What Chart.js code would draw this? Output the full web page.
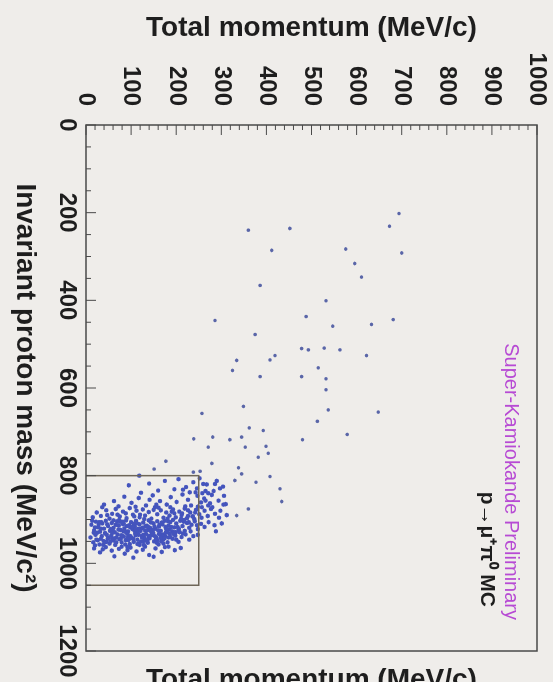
<!DOCTYPE html>
<html>
<head>
<meta charset="utf-8">
<script src="https://cdn.jsdelivr.net/npm/chart.js@4.4.0/dist/chart.umd.min.js"></script>
<style>
  html, body { margin: 0; padding: 0; background: #efedea; overflow: hidden; }
  /* el grafico original esta girado 90 grados */
  #wrap { position: absolute; left: 0; top: 0; width: 682px; height: 553px;
          transform-origin: 0 0; transform: translate(553px, 0) rotate(90deg); }
</style>
</head>
<body>
<div id="wrap"><canvas id="chart" width="682" height="553"></canvas></div>
<script>
// Ejes
const massTicks = [0, 200, 400, 600, 800, 1000, 1200];
const momentumTicks = [0, 100, 200, 300, 400, 500, 600, 700, 800, 900, 1000];

// Caja del corte (masa, momento)
const cutMass = [800, 800, 1050, 1050];
const cutMomentum = [0, 250, 250, 0];

// Eventos dispersos (fuera del nucleo)
const sparseMomentum = [360, 452, 412, 386, 286, 488, 375, 478, 493, 334, 325, 408, 419, 386, 478, 349, 257,
  694, 673, 700, 576, 596, 611, 532, 547, 633, 681, 528, 563, 622, 515, 532, 532, 537, 648, 513, 579, 480,
  362, 393, 281, 319, 345, 353, 399, 382, 279, 338, 345, 408, 271, 239, 404, 177, 238, 253, 151, 430, 434,
  377, 330, 360, 334, 301, 288];
const sparseMass = [240, 236, 286, 366, 446, 437, 478, 510, 513, 537, 560, 536, 526, 574, 574, 642, 658,
  202, 231, 292, 283, 316, 347, 401, 459, 455, 444, 509, 513, 526, 554, 579, 604, 650, 655, 676, 706, 718,
  691, 697, 712, 718, 712, 735, 733, 758, 772, 782, 796, 802, 735, 716, 749, 767, 792, 790, 785, 830, 859,
  815, 811, 876, 891, 909, 927];

// Nucleo de eventos (dentro y cerca de la caja)
const clusterMomentum = [
  118, 95, 140, 175, 205, 222, 238, 252, 246, 268, 290, 283, 230, 196, 160, 122, 243, 258, 215, 265, 260, 286, 304, 297, 271,
  40, 62, 85, 101, 117, 133, 148, 164, 179, 188, 201, 214, 226, 233, 247, 255, 262, 271, 279, 294, 305, 187, 141, 110, 72, 220, 306, 275,
  15, 24, 33, 45, 52, 58, 66, 75, 82, 90, 97, 104, 112, 119, 126, 131, 139, 145, 153, 158,
  166, 172, 178, 185, 193, 199, 207, 212, 219, 224, 231, 237, 244, 251, 256, 263, 270, 277, 286, 298,
  312, 36, 88, 129, 161, 196, 240, 248, 226, 181, 150, 107, 70, 47,
  12, 18, 22, 27, 31, 36, 40, 44, 49, 53, 57, 61, 64, 69, 73, 77, 81, 85, 89, 93,
  96, 100, 103, 108, 111, 115, 119, 123, 127, 131, 135, 139, 142, 146, 150, 154, 158, 162, 166, 170,
  174, 178, 183, 187, 191, 196, 200, 205, 209, 214, 219, 224, 229, 234, 241, 248, 255, 263, 272, 285,
  14, 25, 47, 59, 83, 98, 113, 137, 152, 168, 185, 203, 217, 232, 66, 74, 121, 144, 176, 193,
  28, 91, 106, 160, 246, 301, 288,
  10, 16, 21, 26, 30, 35, 39, 43, 48, 52, 56, 61, 65, 70, 74, 79, 84, 88, 92, 97,
  101, 106, 110, 114, 119, 124, 128, 133, 137, 141, 146, 151, 156, 161, 166, 171, 176, 181, 186, 192,
  198, 205, 212, 221, 229, 238, 20, 45, 68, 95, 117, 139, 158, 183, 33, 58, 87, 130, 172, 200, 215, 248,
  18, 31, 44, 57, 73, 86, 99, 112, 126, 140, 154, 168, 183, 197, 63, 105, 150, 37, 79, 131, 175, 210, 92,
  20, 34, 42, 55, 63, 71, 78, 86, 94, 102, 109, 116, 124, 132, 140, 148, 155, 163, 171, 179,
  187, 195, 38, 50, 67, 80, 92, 105, 118, 127, 136, 147, 157, 169, 181, 194, 206, 218, 23, 46,
  61, 77, 89, 99, 114, 126, 134, 149, 165, 177, 189, 208, 226, 242, 17, 29, 54, 72, 84, 96,
  108, 122, 138, 153, 167, 182, 199, 213, 236, 257, 33, 43, 58, 76, 93, 111, 128, 143, 162, 174,
  190, 211, 228, 265, 280, 295, 310, 82, 120, 156];
const clusterMass = [
  800, 822, 818, 812, 808, 826, 815, 806, 829, 820, 812, 835, 838, 831, 834, 839, 838, 840, 832, 835, 819, 819, 825, 829, 840,
  866, 858, 848, 862, 851, 868, 845, 858, 866, 849, 860, 843, 855, 868, 846, 861, 852, 868, 844, 857, 866, 872, 855, 871, 870, 870, 846, 863,
  895, 884, 892, 879, 898, 887, 876, 893, 882, 897, 874, 889, 880, 895, 877, 891, 883, 898, 872, 888,
  879, 896, 884, 891, 877, 895, 882, 890, 875, 897, 884, 893, 878, 888, 896, 880, 892, 876, 887, 880,
  890, 872, 886, 899, 873, 886, 899, 871, 879, 898, 878, 893, 889, 890,
  912, 925, 905, 918, 928, 909, 921, 903, 915, 926, 908, 919, 929, 904, 914, 924, 910, 920, 902, 927,
  913, 906, 922, 916, 903, 928, 911, 920, 907, 925, 914, 902, 919, 929, 909, 921, 904, 916, 926, 911,
  903, 922, 914, 906, 927, 918, 909, 924, 903, 915, 926, 908, 919, 912, 904, 922, 910, 917, 906, 913,
  903, 930, 911, 923, 927, 918, 909, 924, 916, 907, 923, 917, 905, 927, 912, 901, 926, 907, 917, 901,
  912, 915, 910, 925, 913, 909, 927,
  941, 952, 935, 947, 957, 938, 949, 932, 944, 955, 937, 948, 958, 934, 945, 952, 939, 947, 933, 956,
  942, 951, 936, 946, 958, 938, 949, 933, 953, 943, 936, 950, 941, 957, 935, 946, 938, 952, 933, 944,
  937, 951, 940, 934, 946, 938, 959, 951, 941, 938, 935, 940, 947, 941, 944, 931, 957, 942, 955, 946, 932, 935,
  966, 975, 963, 971, 967, 978, 964, 973, 969, 981, 966, 974, 962, 970, 984, 987, 985, 968, 962, 962, 963, 965, 970,
  918, 906, 931, 922, 943, 913, 936, 926, 947, 917, 932, 921, 941, 915, 937, 924, 945, 912, 934, 922,
  940, 929, 958, 942, 952, 937, 963, 944, 954, 935, 947, 925, 953, 938, 929, 933, 921, 901, 946, 935,
  902, 944, 930, 938, 956, 919, 948, 931, 942, 930, 917, 929, 892, 884, 930, 906, 950, 923, 910, 944,
  926, 950, 917, 938, 950, 904, 929, 886, 893, 872, 921, 952, 943, 905, 941, 923, 958, 926, 933, 943,
  882, 898, 906, 857, 872, 896, 865, 905, 889, 866];

const FONT = "'Liberation Sans', Arial, Helvetica, sans-serif";
const INK = '#1e1e1e';

const toPoints = (ms, ps) => ms.map((m, i) => ({ x: m, y: ps[i] }));

// Marco, marcas internas y textos
const marco = {
  id: 'marco',
  beforeDraw(chart) {
    const c = chart.ctx;
    c.save();
    c.fillStyle = '#efedea';
    c.fillRect(0, 0, chart.width, chart.height);
    c.restore();
  },
  afterDatasetsDraw(chart) {
    const { ctx, chartArea: a, scales: { x, y } } = chart;
    ctx.save();
    ctx.strokeStyle = '#4a4a4a';
    ctx.lineWidth = 1.5;
    ctx.strokeRect(a.left, a.top, a.right - a.left, a.bottom - a.top);
    ctx.lineWidth = 1;
    ctx.beginPath();
    for (let v = 0; v <= 1200; v += 50) {
      const px = x.getPixelForValue(v);
      const len = v % 200 === 0 ? 10 : 5;
      ctx.moveTo(px, a.bottom); ctx.lineTo(px, a.bottom - len);
    }
    for (let v = 0; v <= 1000; v += 20) {
      const py = y.getPixelForValue(v);
      const len = v % 100 === 0 ? 10 : 5;
      ctx.moveTo(a.left, py); ctx.lineTo(a.left + len, py);
    }
    ctx.stroke();

    ctx.textBaseline = 'middle';
    ctx.textAlign = 'right';
    ctx.fillStyle = '#b74ad4';
    ctx.font = '20px ' + FONT;
    ctx.fillText('Super-Kamiokande Preliminary', a.right - 31, a.top + 26);
    ctx.fillStyle = INK;
    ctx.font = 'bold 21px ' + FONT;
    ctx.fillText('p\u2192\u03bc\u207a\u03c0\u2070 MC', a.right - 44, a.top + 50);

    // titulo del eje derecho, cortado por el borde
    ctx.translate(a.right + 15, (a.top + a.bottom) / 2);
    ctx.rotate(-Math.PI / 2);
    ctx.textAlign = 'center';
    ctx.textBaseline = 'top';
    ctx.font = 'bold 28px ' + FONT;
    ctx.fillText('Total momentum (MeV/c)', 0, 0);
    ctx.restore();
  }
};

new Chart(document.getElementById('chart'), {
  type: 'scatter',
  data: {
    datasets: [{
      label: 'corte',
      data: toPoints(cutMass, cutMomentum),
      showLine: true,
      borderColor: '#6e6658',
      borderWidth: 1.5,
      pointRadius: 0,
      fill: false
    }, {
      label: 'nucleo',
      data: toPoints(clusterMass, clusterMomentum),
      pointRadius: 2.2,
      backgroundColor: '#4454bd',
      borderWidth: 0
    }, {
      label: 'dispersos',
      data: toPoints(sparseMass, sparseMomentum),
      pointRadius: 1.8,
      backgroundColor: '#5a66a8',
      borderWidth: 0
    }]
  },
  options: {
    responsive: false,
    animation: false,
    layout: { padding: { top: 16, right: 31, left: 0, bottom: 0 } },
    plugins: { legend: { display: false }, tooltip: { enabled: false } },
    scales: {
      x: {
        type: 'linear',
        position: 'bottom',
        min: 0,
        max: 1200,
        afterBuildTicks: s => { s.ticks = massTicks.map(v => ({ value: v })); },
        afterFit: s => { s.height = 86; s.paddingLeft = 0; s.paddingRight = 0; },
        grid: { display: false, drawTicks: false },
        border: { display: false },
        ticks: {
          color: INK, padding: 5, maxRotation: 0,
          callback: v => String(v),
          font: { family: FONT, size: 24, weight: 'bold' }
        },
        title: {
          display: true,
          text: 'Invariant proton mass (MeV/c\u00b2)',
          color: INK,
          padding: { top: 0, bottom: 8 },
          font: { family: FONT, size: 28, weight: 'bold' }
        }
      },
      y: {
        type: 'linear',
        position: 'left',
        min: 0,
        max: 1000,
        afterBuildTicks: s => { s.ticks = momentumTicks.map(v => ({ value: v })); },
        afterFit: s => { s.width = 125; s.paddingTop = 0; s.paddingBottom = 0; },
        grid: { display: false, drawTicks: false },
        border: { display: false },
        ticks: {
          color: INK, padding: 19,
          callback: v => String(v),
          font: { family: FONT, size: 24, weight: 'bold' }
        },
        title: {
          display: true,
          text: 'Total momentum (MeV/c)',
          color: INK,
          padding: { top: 11, bottom: 0 },
          font: { family: FONT, size: 28, weight: 'bold' }
        }
      }
    }
  },
  plugins: [marco]
});
</script>
</body>
</html>
